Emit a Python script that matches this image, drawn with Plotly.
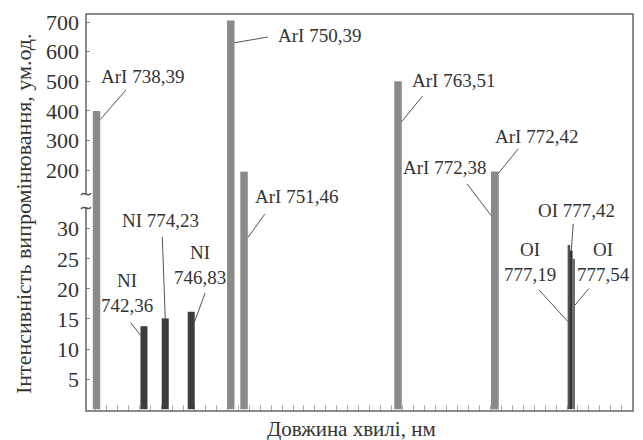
import plotly.graph_objects as go

# ---- spectral lines (positions in axis units along the wavelength scale) ----
ar_names = ["ArI 738,39", "ArI 750,39", "ArI 751,46", "ArI 763,51", "ArI 772,38", "ArI 772,42"]
ar_pos = [738.07, 750.32, 751.53, 765.58, 774.41, 774.41]
ar_int = [400, 705, 195, 500, 195, 195]

ni_names = ["NI 742,36", "NI 774,23", "NI 746,83"]
ni_pos = [742.40, 744.34, 746.71]
ni_int = [13.8, 15.1, 16.2]

oi_names = ["OI 777,19", "OI 777,42", "OI 777,54"]
oi_pos = [781.17, 781.39, 781.61]
oi_int = [27.3, 26.4, 25.0]

x_minor = list(range(738, 787))
y_low_ticks = [5, 10, 15, 20, 25, 30]
y_high_ticks = [200, 300, 400, 500, 600, 700]

# ---- styling ----
FONT = "Liberation Serif, Times New Roman, Times, serif"
TXT = "#333333"
AR_W, NI_W, OI_W = 0.68, 0.64, 0.23
AR_COL, NI_COL = "#8a8a8a", "#3c3c3c"
OI_COLS = ["#505050", "#2e2e2e", "#6a6a6a"]

W, H = 643, 440
L, R, T, B = 86, 10, 12, 29
PW, PH = W - L - R, H - T - B
SPLIT = 200  # pixel row where the axis is broken
split_frac = (H - B - SPLIT) / PH


def px(xp):
    return (xp - L) / PW


def py(yp):
    return (H - B - yp) / PH


fig = go.Figure()

# argon lines cross the break, so they appear in both panels
for ya in ("y", "y2"):
    fig.add_trace(go.Bar(x=ar_pos, y=ar_int, width=AR_W, marker_color=AR_COL,
                         marker_line_width=0, yaxis=ya, xaxis="x", showlegend=False))
fig.add_trace(go.Bar(x=ni_pos, y=ni_int, width=NI_W, marker_color=NI_COL,
                     marker_line_width=0, yaxis="y", showlegend=False))
fig.add_trace(go.Bar(x=oi_pos, y=oi_int, width=OI_W, marker_color=OI_COLS,
                     marker_line_width=0, yaxis="y", showlegend=False))

# ---- line labels with leader lines ----
# (text, x of bar, side, axis, y of leader tip, leader tail offset px, text offset px)
labels = [
    ("ArI 738,39", ar_pos[0], 1, "y2", 371, (27, -31), (42, -43)),
    ("ArI 750,39", ar_pos[1], 1, "y2", 630, (35, -6), (85, -7)),
    ("ArI 751,46", ar_pos[2], 1, "y", 28.5, (18, -25), (49, -41)),
    ("ArI 763,51", ar_pos[3], 1, "y2", 364, (22, -27), (52, -41)),
    ("ArI 772,42", ar_pos[5], 1, "y2", 190, (21, -26), (38, -37)),
    ("ArI 772,38", ar_pos[4], -1, "y", 32.2, (-25, -33), (-47, -48)),
    ("NI<br>742,36", ni_pos[0], -1, "y", 12.3, (-11, -14), (-13, -42)),
    ("NI 774,23", ni_pos[1], 0, "y", ni_int[1], (-3, -83), (-5, -98)),
    ("NI<br>746,83", ni_pos[2], 1, "y", 14.6, (11, -30), (5, -56)),
    ("OI 777,42", oi_pos[1], 0, "y", oi_int[1], (2, -28), (5, -40)),
    ("OI<br>777,19", oi_pos[0], -1, "y", 14.6, (-30, -33), (-38, -59)),
    ("OI<br>777,54", oi_pos[2], 1, "y", 17.3, (15, -18), (29, -43)),
]
widths = {"Ar": AR_W, "NI": NI_W, "OI": OI_W}
for text, xb, side, ax_name, yv, tail, toff in labels:
    w = widths["Ar" if text.startswith("Ar") else text[:2]]
    xt = xb + side * w / 2
    fig.add_annotation(x=xt, y=yv, xref="x", yref=ax_name, text="", showarrow=True,
                       arrowhead=0, arrowwidth=1, arrowcolor="#555555",
                       ax=tail[0], ay=tail[1])
    fig.add_annotation(x=xt, y=yv, xref="x", yref=ax_name, text=text, showarrow=False,
                       xshift=toff[0], yshift=-toff[1], xanchor="center", yanchor="middle",
                       font=dict(family=FONT, size=19, color=TXT))

# ---- frame, axis break ----
fig.add_shape(type="rect", xref="paper", yref="paper", x0=0, x1=1, y0=0, y1=1,
              line=dict(color="#666666", width=1.5), layer="above")
fig.add_shape(type="rect", xref="paper", yref="paper", x0=px(82), x1=px(90),
              y0=py(206), y1=py(194), fillcolor="white", line_width=0, layer="above")
for yc in (193, 207):
    path = (f"M {px(81)},{py(yc + 1)} C {px(84)},{py(yc - 4)} "
            f"{px(88)},{py(yc + 4)} {px(91)},{py(yc - 1)}")
    fig.add_shape(type="path", xref="paper", yref="paper", path=path,
                  line=dict(color="#555555", width=1.5), layer="above")

# ---- axis titles ----
fig.add_annotation(xref="paper", yref="paper", x=px(24), y=py(213), textangle=-90,
                   text="Інтенсивність випромінювання, ум.од.", showarrow=False,
                   xanchor="center", yanchor="middle",
                   font=dict(family=FONT, size=22, color=TXT))
fig.add_annotation(xref="paper", yref="paper", x=px(351), y=py(429),
                   text="Довжина хвилі, нм", showarrow=False,
                   xanchor="center", yanchor="middle",
                   font=dict(family=FONT, size=21, color=TXT))

tick_font = dict(family=FONT, size=22, color=TXT)
fig.update_layout(
    width=W, height=H, margin=dict(l=L, r=R, t=T, b=B),
    paper_bgcolor="white", plot_bgcolor="white", barmode="overlay",
    xaxis=dict(range=[737.11, 787.02], tickvals=x_minor, ticks="inside", ticklen=6,
               tickcolor="#b0b0b0", tickwidth=1, showticklabels=False,
               showline=False, showgrid=False, zeroline=False, layer="below traces",
               anchor="y"),
    yaxis=dict(domain=[0, split_frac], range=[-0.3, 34.6], tickvals=y_low_ticks,
               ticks="inside", ticklen=4, tickcolor="#888888", tickfont=tick_font,
               showgrid=False, zeroline=False, showline=False, anchor="x",
               ticklabelstandoff=6),
    yaxis2=dict(domain=[split_frac, 1], range=[96, 727], tickvals=y_high_ticks,
                ticks="inside", ticklen=4, tickcolor="#888888", tickfont=tick_font,
                showgrid=False, zeroline=False, showline=False, anchor="x",
                ticklabelstandoff=6),
)

fig.write_html("out.html")
